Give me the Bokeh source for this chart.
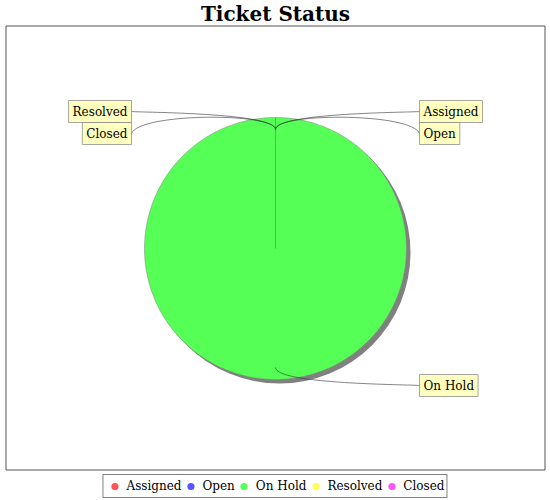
import math
from bokeh.plotting import figure
from bokeh.models import Range1d, Label, Legend, LegendItem
from bokeh.embed import file_html
from bokeh.resources import INLINE

# ---- data ----
title_text = "Ticket Status"
categories = ["Assigned", "Open", "On Hold", "Resolved", "Closed"]
values = [0, 0, 12, 0, 0]
colors = ["#FF5555", "#5555FF", "#55FF55", "#FFFF55", "#FF55FF"]

# ---- layout (frame covers the whole page; 1 data unit = 1 px, y up) ----
W, H = 550, 500
SERIF = "DejaVu Serif"

p = figure(width=W, height=H, output_backend="svg", toolbar_location=None,
           x_range=Range1d(0, W), y_range=Range1d(0, H),
           x_axis_type=None, y_axis_type=None,
           min_border=0)
p.grid.visible = False
p.background_fill_color = "white"
p.border_fill_color = "white"
p.outline_line_color = None

# title
p.add_layout(Label(x=W / 2, y=H - 13, text=title_text, text_font=SERIF, text_font_size="20px",
                   text_font_style="bold", text_color="black", text_align="center",
                   text_baseline="middle"))

# plot area box
p.quad(left=[5.5], right=[544.5], bottom=[30.5], top=[474.5], fill_color=None,
       line_color="#555555", line_width=1)

cx, cy, r = 275, 252, 131
total = float(sum(values))

# legend proxies (hidden renderers, shown only in legend)
items = []
for name, c in zip(categories, colors):
    rr = p.scatter(x=[cx], y=[cy], marker="circle", size=8, fill_color=c, line_color=None)
    rr.visible = False
    items.append(LegendItem(label=name, renderers=[rr]))

# shadow
p.circle(x=[cx + 4], y=[cy - 4], radius=r, fill_color="#808080", line_color=None)

# slices (clockwise from 12 o'clock), drawn as polygons
starts, ends, mids, fracs = [], [], [], []
cum = 0.0
for v in values:
    s = math.pi / 2 - 2 * math.pi * cum / total
    e = s - 2 * math.pi * v / total
    starts.append(s)
    ends.append(e)
    mids.append((s + e) / 2)
    fracs.append((cum + v / 2) / total)
    cum += v

xs, ys, fills = [], [], []
for s, e, c, v in zip(starts, ends, colors, values):
    if v <= 0:
        continue
    n = max(2, int(abs(s - e) / (2 * math.pi) * 360))
    px = [cx] + [cx + r * math.cos(s + (e - s) * k / n) for k in range(n + 1)]
    py = [cy] + [cy + r * math.sin(s + (e - s) * k / n) for k in range(n + 1)]
    xs.append(px)
    ys.append(py)
    fills.append(c)
p.patches(xs=xs, ys=ys, fill_color=fills, line_color="#808080", line_width=0.5)

# labels with curved links
link_r = 119
elbow_r = 136
gap = 8
label_r = 137
spacing = 22
pad = 4
right_last = None
left_last = None
for name, m, f in zip(categories, mids, fracs):
    right = f <= 0.5
    ly = cy + label_r * math.sin(m)
    if right:
        if right_last is not None and ly > right_last - spacing:
            ly = right_last - spacing
        right_last = ly
    else:
        if left_last is not None and ly > left_last - spacing:
            ly = left_last - spacing
        left_last = ly
    lx0 = cx + link_r * math.cos(m)
    ly0 = cy + link_r * math.sin(m)
    ex = cx + elbow_r * math.cos(m)
    ey = cy + elbow_r * math.sin(m)
    ax = cx + elbow_r if right else cx - elbow_r
    tx = ax + gap if right else ax - gap
    p.bezier(x0=[tx], y0=[ly], x1=[lx0], y1=[ly0], cx0=[ax], cy0=[ey], cx1=[ex], cy1=[ey],
             line_color="#333333", line_width=0.6)
    align = "left" if right else "right"
    sh = Label(x=tx, y=ly, text=name, text_alpha=0.0, text_font=SERIF, text_font_size="12px",
               text_align=align, text_baseline="middle", x_offset=2, y_offset=-2, padding=pad,
               background_fill_color="#A8A8A8", background_fill_alpha=1.0)
    lb = Label(x=tx, y=ly, text=name, text_font=SERIF, text_font_size="12px",
               text_color="black", text_align=align, text_baseline="middle", padding=pad,
               background_fill_color="#FFFFC0", border_line_color="#808080", border_line_width=0.7)
    p.add_layout(sh)
    p.add_layout(lb)

# legend
legend = Legend(items=items, orientation="horizontal", location="bottom_center",
                label_text_font=SERIF, label_text_font_size="12px", label_text_color="black",
                glyph_width=18, glyph_height=18, label_standoff=3, spacing=0,
                padding=2, margin=2, border_line_color="black", border_line_width=1,
                background_fill_color="white", inactive_fill_alpha=0.0,
                click_policy="none")
p.add_layout(legend)

open("out.html", "w").write(file_html(p, INLINE))
